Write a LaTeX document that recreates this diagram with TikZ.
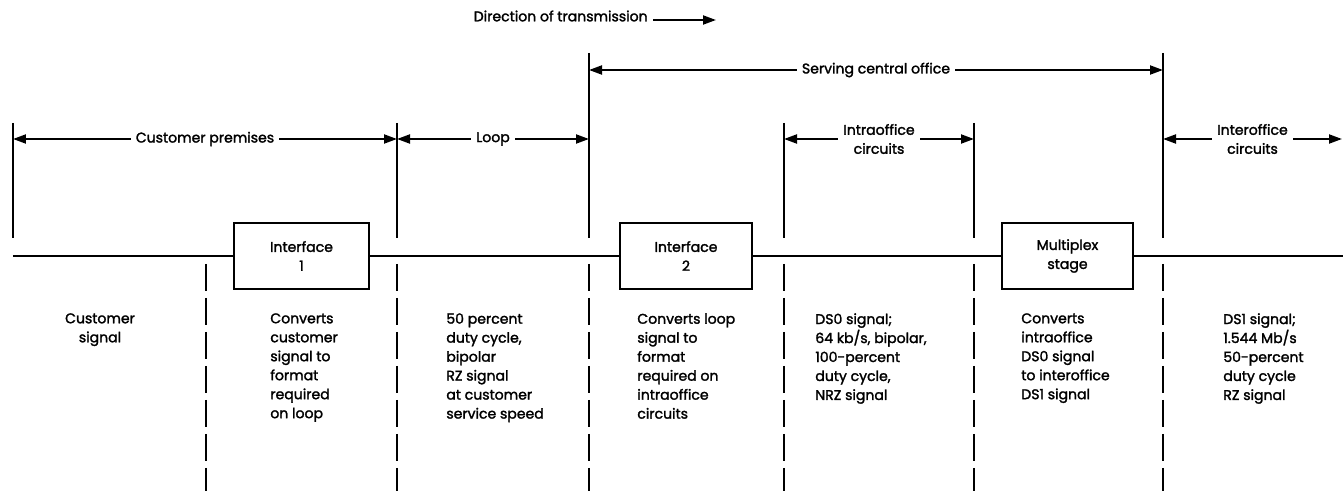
\documentclass[tikz,border=0pt]{standalone}
\usepackage{fontspec}
\setmainfont{Poppins}[FakeBold=1.8]
\usetikzlibrary{arrows.meta, positioning, calc}

\begin{document}
\begin{tikzpicture}[
    font=\fontsize{8}{10.8}\selectfont,
    mainline/.style={line width=1.7pt},
    bound/.style={line width=1.1pt},
    dashbound/.style={line width=1.1pt, dash pattern=on 0.54cm off 0.14cm},
    dimline/.style={line width=1.1pt, {Triangle[length=2.6mm, width=1.8mm]}-{Triangle[length=2.6mm, width=1.8mm]}},
    dimlabel/.style={fill=white, inner xsep=3pt, inner ysep=1pt, align=center},
    blockbox/.style={draw, line width=1.1pt, minimum width=2.7cm, minimum height=1.32cm, align=center, fill=white},
    desc/.style={anchor=north west, inner sep=0pt, align=left},
]

% ===== Layout =====
% x of the boundary lines, left to right
\def\xL{0.26}
\def\xa{4.12}
\def\xb{7.94}
\def\xc{11.78}
\def\xd{15.68}
\def\xe{19.48}
\def\xf{23.26}
\def\xR{26.84}

% y levels
\def\yMain{-5.12}  % signal line
\def\yTop{-2.46}   % top of short boundary lines
\def\yTall{-1.06}  % top of central office boundaries
\def\yUp{-4.76}    % lower end of upper boundary lines
\def\yDash{-5.28}  % top of dashed lines
\def\yBot{-9.82}
\def\yDim{-2.78}   % lower row of spans
\def\yDesc{-6.26}  % top of description texts

\useasboundingbox (0,0) rectangle (26.86,\yBot);

% ===== Boundary lines =====
\foreach \x in {\xL, \xb, \xd, \xe} {
    \draw[bound] (\x, \yTop) -- (\x, \yUp);
}
\foreach \x in {\xc, \xf} {
    \draw[bound] (\x, \yTall) -- (\x, \yUp);
}
\foreach \x in {\xa, \xb, \xc, \xd, \xe, \xf} {
    \draw[dashbound] (\x, \yDash) -- (\x, \yBot);
}

% ===== Blocks and signal line =====
\node[blockbox] (iface1) at (6.03, \yMain) {Interface\\1};
\node[blockbox, minimum width=2.64cm] (iface2) at (13.72, \yMain) {Interface\\2};
\node[blockbox, minimum width=2.62cm] (mux) at (21.35, \yMain) {Multiplex\\stage};

\coordinate (lineL) at (\xL, \yMain);
\coordinate (lineR) at (26.86, \yMain);
\draw[mainline] (lineL) -- (iface1) (iface1) -- (iface2) (iface2) -- (mux) (mux) -- (lineR);

% ===== Spans =====
\coordinate (cpL) at (\xL, \yDim);
\coordinate (cpR) at (\xb, \yDim);
\coordinate (lpR) at (\xc, \yDim);
\coordinate (iaL) at (\xd, \yDim);
\coordinate (iaR) at (\xe, \yDim);
\coordinate (ieL) at (\xf, \yDim);
\coordinate (ieR) at (\xR, \yDim);
\coordinate (scoL) at (\xc, -1.40);
\coordinate (scoR) at (\xf, -1.40);

\draw[dimline] (cpL) -- node[dimlabel] (cplab) {Customer premises} (cpR);
\draw[dimline] (cpR) -- node[dimlabel] (looplab) {Loop} (lpR);
\draw[dimline] (iaL) -- node[dimlabel] (ialab) {Intraoffice\\circuits} (iaR);
\draw[dimline] (ieL) -- node[dimlabel] (ielab) {Interoffice\\circuits} (ieR);
\draw[dimline] (scoL) -- node[dimlabel] (scolab) {Serving central office} (scoR);

% direction of transmission
\node[anchor=east, inner sep=0pt] (dirlab) at (12.96, -0.32) {Direction of transmission};
\coordinate (dirend) at (14.32, -0.40);
\draw[bound, -{Triangle[length=2.6mm, width=1.8mm]}] ([xshift=1mm]dirlab.east |- dirend) -- (dirend);

% ===== Descriptions =====
\node[desc, anchor=north, align=center] (custsig) at (2.00, \yDesc) {Customer\\signal};
\node[desc] (conv1) at (5.40, \yDesc) {Converts\\customer\\signal to\\format\\required\\on loop};
\node[desc] (loopsig) at (8.92, \yDesc) {50 percent\\duty cycle,\\bipolar\\RZ signal\\at customer\\service speed};
\node[desc] (conv2) at (12.74, \yDesc) {Converts loop\\signal to\\format\\required on\\intraoffice\\circuits};
\node[desc] (dszero) at (16.30, \yDesc) {DS0 signal;\\64 kb/s, bipolar,\\100-percent\\duty cycle,\\NRZ signal};
\node[desc] (convmux) at (20.42, \yDesc) {Converts\\intraoffice\\DS0 signal\\to interoffice\\DS1 signal};
\node[desc] (dsone) at (24.46, \yDesc) {DS1 signal;\\1.544 Mb/s\\50-percent\\duty cycle\\RZ signal};

\end{tikzpicture}
\end{document}
